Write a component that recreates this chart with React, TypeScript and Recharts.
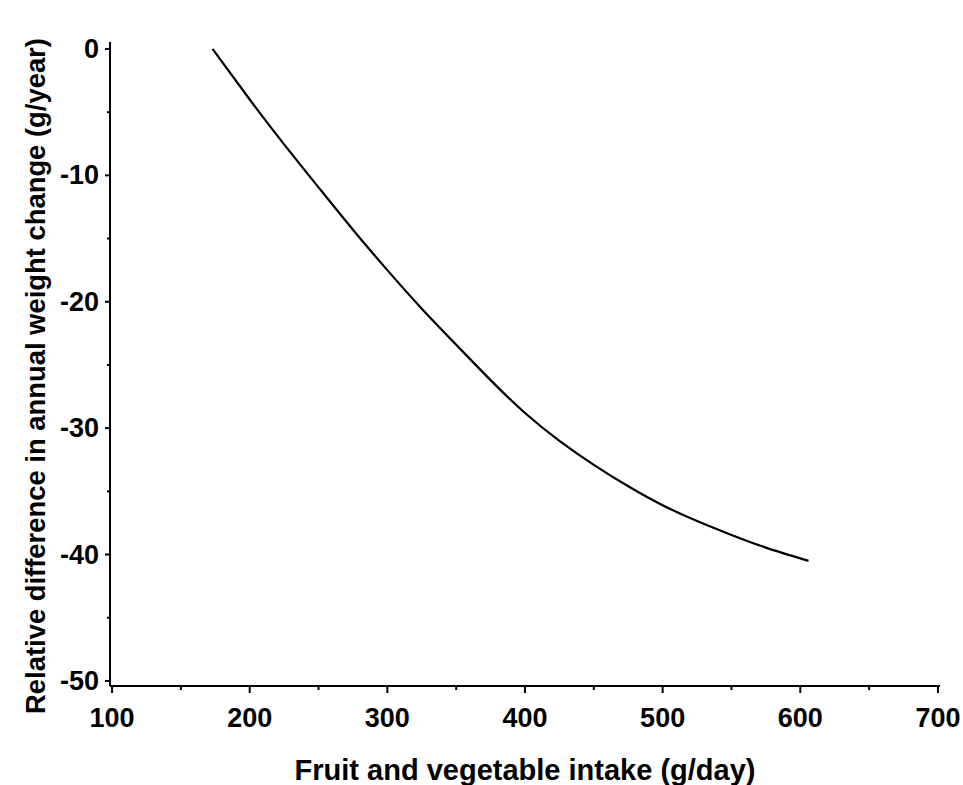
import React from 'react';
import { LineChart, Line, XAxis, YAxis } from 'recharts';

// fruit & vegetable intake (g/day) vs relative difference in annual weight change (g/year)
const intake = [173, 200, 225, 250, 275, 300, 325, 350, 375, 400, 425, 450, 475, 500, 525, 550, 575, 606];
const weightDiff = [0, -4.0, -7.55, -10.95, -14.3, -17.5, -20.55, -23.4, -26.2, -28.8, -31.0, -32.9, -34.6, -36.1, -37.35, -38.45, -39.45, -40.5];

const xTicks = [100, 150, 200, 250, 300, 350, 400, 450, 500, 550, 600, 650, 700];
const yTicks = [-50, -45, -40, -35, -30, -25, -20, -15, -10, -5, 0];

const xTitle = 'Fruit and vegetable intake (g/day)';
const yTitle = 'Relative difference in annual weight change (g/year)';

const data = intake.map((x, i) => ({ x, y: weightDiff[i] }));

const FONT = '"Liberation Sans", Arial, sans-serif';
const FONT_SIZE = 27;

const XTick = (props: any) => {
  const { x, y, payload } = props;
  const major = payload.value % 100 === 0;
  return (
    <g>
      <line x1={x} y1={y} x2={x} y2={y + (major ? 7 : 4)} stroke="#000" strokeWidth={2} />
      {major && (
        <text x={x} y={y + 41} textAnchor="middle" fontFamily={FONT} fontWeight="bold" fontSize={FONT_SIZE} fill="#000">
          {payload.value}
        </text>
      )}
    </g>
  );
};

const YTick = (props: any) => {
  const { x, y, payload } = props;
  const major = payload.value % 10 === 0;
  return (
    <g>
      <line x1={x - (major ? 5 : 3)} y1={y} x2={x} y2={y} stroke="#000" strokeWidth={2} />
      {major && (
        <text x={x - 11} y={y} textAnchor="end" dominantBaseline="central" fontFamily={FONT} fontWeight="bold" fontSize={FONT_SIZE} fill="#000">
          {payload.value}
        </text>
      )}
    </g>
  );
};

const XTitle = ({ viewBox }: any) => {
  const cx = viewBox.x + viewBox.width / 2;
  return (
    <text x={cx} y={viewBox.y + 94} textAnchor="middle" fontFamily={FONT} fontWeight="bold" fontSize={29} fill="#000">
      {xTitle}
    </text>
  );
};

const YTitle = ({ viewBox }: any) => {
  const cx = 35;
  const cy = viewBox.y + viewBox.height / 2 + 12;
  return (
    <text
      x={cx}
      y={cy}
      transform={`rotate(-90 ${cx} ${cy})`}
      textAnchor="middle"
      dominantBaseline="central"
      fontFamily={FONT}
      fontWeight="bold"
      fontSize={27.4}
      fill="#000"
    >
      {yTitle}
    </text>
  );
};

export default function App() {
  return (
    <div style={{ position: 'absolute', left: 0, top: 0, width: 963, height: 785, background: '#fff' }}>
      <LineChart width={963} height={785} data={data} margin={{ top: 42, right: 23, bottom: 0, left: 0 }}>
        <XAxis
          dataKey="x"
          type="number"
          domain={[98.5, 701.5]}
          ticks={xTicks}
          interval={0}
          allowDataOverflow
          height={99}
          tickSize={0}
          tickMargin={0}
          tick={<XTick />}
          axisLine={{ stroke: '#000', strokeWidth: 2 }}
          label={<XTitle />}
        />
        <YAxis
          type="number"
          domain={[-50.4, 0.55]}
          ticks={yTicks}
          interval={0}
          allowDataOverflow
          width={110}
          tickSize={0}
          tickMargin={0}
          tick={<YTick />}
          axisLine={{ stroke: '#000', strokeWidth: 2 }}
          label={<YTitle />}
        />
        <Line
          type="natural"
          dataKey="y"
          stroke="#000"
          strokeWidth={2.2}
          dot={false}
          isAnimationActive={false}
        />
      </LineChart>
    </div>
  );
}
